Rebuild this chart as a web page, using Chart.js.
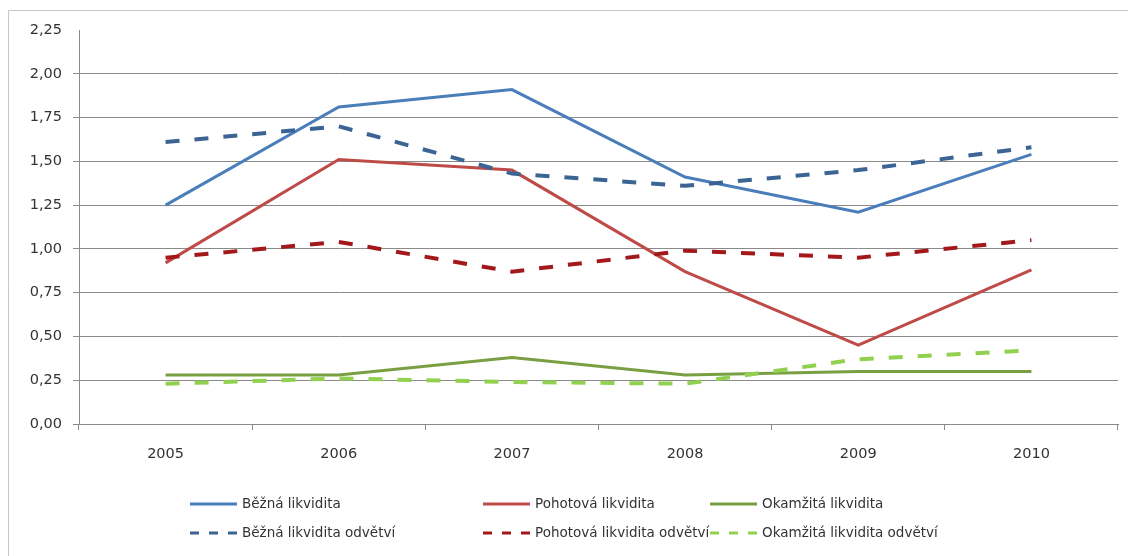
<!DOCTYPE html>
<html>
<head>
<meta charset="utf-8">
<script src="https://cdn.jsdelivr.net/npm/chart.js@4/dist/chart.umd.min.js"></script>
<style>
  html, body { margin: 0; padding: 0; background: #fff; overflow: hidden; }
  #wrap { width: 1128px; height: 556px; position: relative; }
</style>
</head>
<body>
<div id="wrap"><canvas id="likvidita"></canvas></div>
<script>
// Ukazatele likvidity 2005-2010, podnik vs. odvětví
const years = ['2005', '2006', '2007', '2008', '2009', '2010'];
const bezna = [1.25, 1.81, 1.91, 1.41, 1.21, 1.54];
const pohotova = [0.92, 1.51, 1.45, 0.87, 0.45, 0.88];
const okamzita = [0.28, 0.28, 0.38, 0.28, 0.30, 0.30];
const beznaOdvetvi = [1.61, 1.70, 1.43, 1.36, 1.45, 1.58];
const pohotovaOdvetvi = [0.95, 1.04, 0.87, 0.99, 0.95, 1.05];
const okamzitaOdvetvi = [0.23, 0.26, 0.24, 0.23, 0.37, 0.42];
const yTicks = [0, 0.25, 0.5, 0.75, 1, 1.25, 1.5, 1.75, 2, 2.25];

const FONT = 'DejaVu Sans';
const TEXT = '#333333';
const GRID = '#8a8a8a';
const DASH = [14, 15];

function series(label, data, color, dashed) {
    return {
        label: label,
        data: data,
        borderColor: color,
        backgroundColor: color,
        borderWidth: dashed ? 4 : 3,
        borderDash: dashed ? DASH : [],
        borderCapStyle: 'butt',
        pointRadius: 0,
        pointHoverRadius: 0,
        tension: 0,
        fill: false,
        order: dashed ? 0 : 1
    };
}

// frame round the chart object: only its top and left edge are on the page
const framePlugin = {
    id: 'frame',
    beforeDraw(chart) {
        const ctx = chart.ctx;
        ctx.save();
        ctx.fillStyle = '#ffffff';
        ctx.fillRect(0, 0, chart.width, chart.height);
        ctx.strokeStyle = '#c6c6c6';
        ctx.lineWidth = 1;
        ctx.beginPath();
        ctx.moveTo(8.5, chart.height + 5);
        ctx.lineTo(8.5, 10.5);
        ctx.lineTo(chart.width + 5, 10.5);
        ctx.stroke();
        ctx.restore();
    }
};

// legend in three columns, two rows
const legendPlugin = {
    id: 'gridLegend',
    afterDraw(chart, args, opts) {
        const ctx = chart.ctx;
        ctx.save();
        ctx.font = opts.fontSize + 'px "' + FONT + '"';
        ctx.textBaseline = 'middle';
        ctx.fillStyle = TEXT;
        chart.data.datasets.forEach((ds, i) => {
            const col = i % 3;
            const row = Math.floor(i / 3);
            const x = opts.columns[col];
            const y = opts.rows[row];
            ctx.beginPath();
            ctx.strokeStyle = ds.borderColor;
            ctx.lineWidth = 3;
            ctx.setLineDash(ds.borderDash.length ? [9, 10] : []);
            ctx.moveTo(x, y);
            ctx.lineTo(x + opts.sample, y);
            ctx.stroke();
            ctx.setLineDash([]);
            ctx.fillText(ds.label, x + opts.sample + 5, y);
        });
        ctx.restore();
    }
};

new Chart(document.getElementById('likvidita'), {
    type: 'line',
    data: {
        labels: years,
        datasets: [
            series('Běžná likvidita', bezna, '#4a7ebb', false),
            series('Pohotová likvidita', pohotova, '#be4b48', false),
            series('Okamžitá likvidita', okamzita, '#7a9f43', false),
            series('Běžná likvidita odvětví', beznaOdvetvi, '#3b6495', true),
            series('Pohotová likvidita odvětví', pohotovaOdvetvi, '#a3191b', true),
            series('Okamžitá likvidita odvětví', okamzitaOdvetvi, '#92d050', true)
        ]
    },
    options: {
        responsive: true,
        maintainAspectRatio: false,
        animation: false,
        layout: { padding: { left: 0, right: 10, top: 30, bottom: 0 } },
        plugins: {
            legend: { display: false },
            tooltip: { enabled: false },
            gridLegend: { columns: [190, 483, 710], rows: [504, 533], sample: 47, fontSize: 13.5 }
        },
        scales: {
            x: {
                offset: true,
                grid: {
                    offset: true,
                    drawOnChartArea: false,
                    drawTicks: true,
                    tickLength: 6,
                    color: GRID
                },
                border: { color: GRID, width: 1 },
                ticks: {
                    color: TEXT,
                    padding: 16,
                    font: { family: FONT, size: 14.5 }
                },
                afterFit(scale) { scale.height = 132; }
            },
            y: {
                min: 0,
                max: 2.25,
                afterBuildTicks(scale) { scale.ticks = yTicks.map(v => ({ value: v })); },
                grid: {
                    color: ctx => (ctx.tick && ctx.tick.value === 2.25 ? 'rgba(0,0,0,0)' : GRID),
                    tickLength: 6,
                    lineWidth: 1
                },
                border: { color: GRID, width: 1 },
                ticks: {
                    color: TEXT,
                    padding: 11,
                    font: { family: FONT, size: 14.5 },
                    callback: v => v.toFixed(2).replace('.', ',')
                },
                afterFit(scale) { scale.width = 79; }
            }
        }
    },
    plugins: [framePlugin, legendPlugin]
});
</script>
</body>
</html>
